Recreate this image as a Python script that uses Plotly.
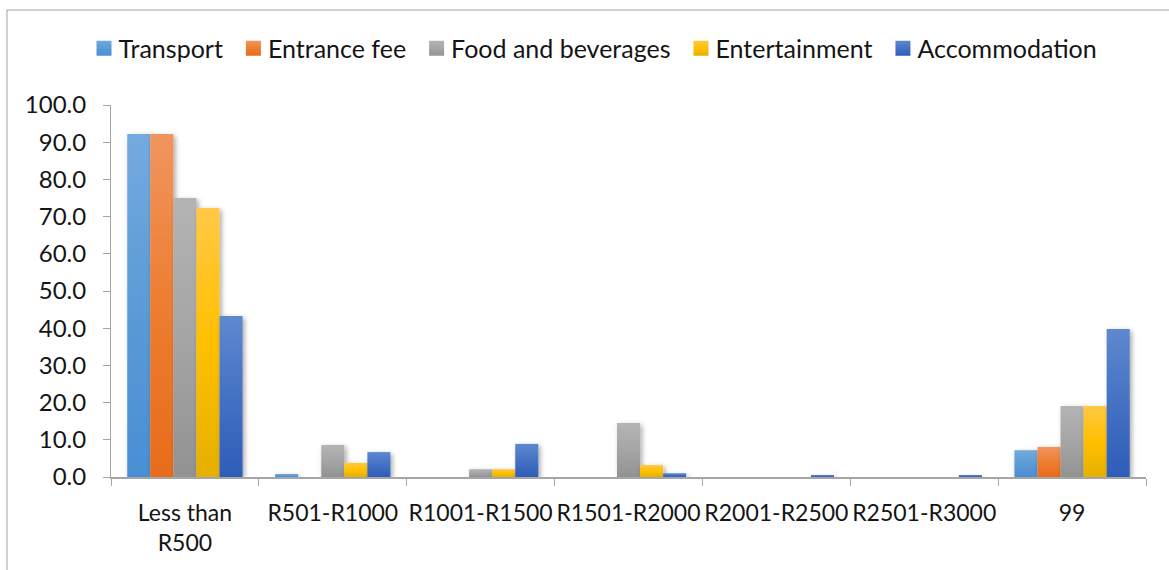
import plotly.graph_objects as go

categories = ["Less than<br>R500", "R501-R1000", "R1001-R1500", "R1501-R2000",
              "R2001-R2500", "R2501-R3000", "99"]

transport = [92.2, 0.8, 0.0, 0.0, 0.0, 0.0, 7.2]
entrance_fee = [92.2, 0.0, 0.0, 0.0, 0.0, 0.0, 8.1]
food_beverages = [75.0, 8.6, 2.1, 14.5, 0.0, 0.0, 19.1]
entertainment = [72.3, 3.8, 2.1, 3.2, 0.0, 0.0, 19.1]
accommodation = [43.3, 6.7, 8.9, 1.0, 0.5, 0.5, 39.8]

series = [
    ("Transport", transport, "#5B9BD5"),
    ("Entrance fee", entrance_fee, "#ED7D31"),
    ("Food and beverages", food_beverages, "#A5A5A5"),
    ("Entertainment", entertainment, "#FFC000"),
    ("Accommodation", accommodation, "#4472C4"),
]

# top / middle / bottom colours of the vertical fill gradient per series
gradients = [
    ("#74AADF", "#5B9BD5", "#4A8ED4"),
    ("#F1955E", "#ED7D31", "#E86C1B"),
    ("#B4B4B4", "#A5A5A5", "#929292"),
    ("#FFC845", "#FFC000", "#E6B000"),
    ("#5F88CF", "#4472C4", "#2E5DB8"),
]

FONT = "Lato"
TEXT = "#141414"
AXIS_GREY = "#A6A6A6"

fig = go.Figure()
for name, vals, color in series:
    fig.add_trace(go.Bar(name=name, x=categories, y=vals,
                         marker=dict(color=color, line=dict(width=0))))

fig.update_layout(
    width=1169, height=570,
    margin=dict(l=111, r=23, t=105, b=93, autoexpand=False),
    paper_bgcolor="white", plot_bgcolor="white",
    barmode="group", bargap=0.22, bargroupgap=0,
    font=dict(family=FONT, size=23, color=TEXT),
    showlegend=True,
    legend=dict(orientation="h", x=0.4633, xanchor="center", y=1.152, yanchor="middle",
                font=dict(family=FONT, size=25, color=TEXT),
                itemwidth=30, traceorder="normal"),
    shapes=[dict(type="rect", xref="paper", yref="paper",
                 x0=-0.1005, x1=1.2, y0=-0.6, y1=1.2554,
                 line=dict(color="#A0A0A0", width=1), fillcolor="rgba(0,0,0,0)",
                 layer="below")],
)

fig.update_xaxes(
    type="category", showgrid=False, showline=True, linecolor=AXIS_GREY, linewidth=2,
    ticks="outside", tickson="boundaries", ticklen=7, tickcolor=AXIS_GREY, tickwidth=1,
    tickangle=0, automargin=False, ticklabelstandoff=14,
    tickfont=dict(family=FONT, size=23, color=TEXT),
)
fig.update_yaxes(
    range=[0, 100], dtick=10, tickformat=".1f", showgrid=False, zeroline=False,
    showline=True, linecolor=AXIS_GREY, linewidth=1,
    ticks="outside", ticklen=7, tickcolor=AXIS_GREY, tickwidth=1,
    automargin=False, ticklabelstandoff=12,
    tickfont=dict(family=FONT, size=24, color=TEXT),
)

grad_js = "[" + ",".join("['%s','%s','%s']" % g for g in gradients) + "]"
post = """
(function(){
  var gd = document.getElementById('{plot_id}');
  function paint(){
    var svg = gd.querySelector('.main-svg');
    var defs = svg.querySelector('defs');
    var ns = 'http://www.w3.org/2000/svg';
    var grads = %s;
    grads.forEach(function(g, i){
      var lg = document.createElementNS(ns, 'linearGradient');
      lg.setAttribute('id', 'barfill' + i);
      lg.setAttribute('x1', '0'); lg.setAttribute('y1', '0');
      lg.setAttribute('x2', '0'); lg.setAttribute('y2', '1');
      [[0, g[0]], [0.5, g[1]], [1, g[2]]].forEach(function(s){
        var st = document.createElementNS(ns, 'stop');
        st.setAttribute('offset', s[0]);
        st.setAttribute('stop-color', s[1]);
        lg.appendChild(st);
      });
      defs.appendChild(lg);
    });
    var f = document.createElementNS(ns, 'filter');
    f.setAttribute('id', 'barshadow');
    f.setAttribute('x', '-50%%'); f.setAttribute('y', '-50%%');
    f.setAttribute('width', '200%%'); f.setAttribute('height', '200%%');
    var ds = document.createElementNS(ns, 'feDropShadow');
    ds.setAttribute('dx', '2'); ds.setAttribute('dy', '2');
    ds.setAttribute('stdDeviation', '2.5');
    ds.setAttribute('flood-color', '#000'); ds.setAttribute('flood-opacity', '0.35');
    f.appendChild(ds);
    defs.appendChild(f);
    gd.querySelectorAll('.barlayer .trace.bars').forEach(function(tr, i){
      tr.querySelectorAll('.point path').forEach(function(p){
        p.style.fill = 'url(#barfill' + i + ')';
        p.style.filter = 'url(#barshadow)';
      });
    });
    // larger legend swatches, set closer to their labels
    gd.querySelectorAll('.legend .traces').forEach(function(tr, i){
      var lp = tr.querySelector('.legendpoints');
      if (lp) { lp.setAttribute('transform', 'translate(25.5,0) scale(1.25) translate(-20,0)'); }
      tr.querySelectorAll('.legendpoints path').forEach(function(p){
        p.style.fill = 'url(#barfill' + i + ')';
      });
    });
  }
  paint();
})();
""" % grad_js

fig.write_html("out.html", post_script=post)
